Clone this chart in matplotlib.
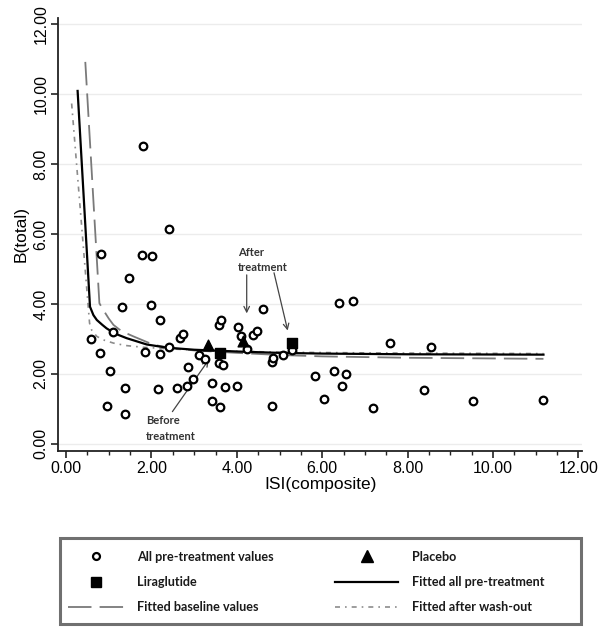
import numpy as np
import matplotlib
matplotlib.use("Agg")
import matplotlib.pyplot as plt
from matplotlib.lines import Line2D
from matplotlib.patches import Rectangle

# all pre-treatment values
pre_x = [0.58, 0.80, 0.82, 0.95, 1.02, 1.09, 1.30, 1.37, 1.39, 1.47, 1.77, 1.79,
         1.84, 2.00, 2.02, 2.16, 2.19, 2.21, 2.41, 2.42, 2.60, 2.67, 2.73, 2.83,
         2.85, 2.97, 3.12, 3.25, 3.41, 3.42, 3.57, 3.59, 3.60, 3.62, 3.68, 3.72,
         4.01, 4.03, 4.10, 4.24, 4.37, 4.48, 4.60, 4.82, 4.85, 4.82, 5.09, 5.28,
         5.84, 6.03, 6.27, 6.39, 6.46, 6.55, 6.73, 7.19, 7.58, 8.38, 8.55, 9.52,
         11.18]
pre_y = [3.01, 2.60, 5.42, 1.09, 2.09, 3.19, 3.90, 0.86, 1.61, 4.74, 5.41, 8.52,
         2.62, 3.98, 5.38, 1.57, 3.53, 2.56, 6.13, 2.78, 1.59, 3.02, 3.13, 1.64,
         2.21, 1.85, 2.54, 2.42, 1.75, 1.23, 2.31, 3.40, 1.05, 3.54, 2.24, 1.62,
         1.66, 3.33, 3.09, 2.70, 3.11, 3.23, 3.86, 2.33, 2.45, 1.09, 2.54, 2.67,
         1.95, 1.28, 2.07, 4.02, 1.65, 1.99, 4.08, 1.01, 2.87, 1.53, 2.78, 1.21,
         1.25]

placebo_x = [3.33, 4.14]
placebo_y = [2.82, 2.95]
lira_x = [3.61, 5.30]
lira_y = [2.61, 2.89]

# fitted curves
fit_all_x = [0.27, 0.56, 0.64, 0.72, 0.85, 0.95, 1.15, 1.42, 1.89, 2.36, 3.0, 4.0, 5.0, 6.0, 8.0, 11.18]
fit_all_y = [10.09, 3.92, 3.68, 3.54, 3.40, 3.30, 3.15, 3.02, 2.84, 2.75, 2.69, 2.64, 2.60, 2.58, 2.56, 2.55]
fit_base_x = [0.45, 0.78, 0.87, 1.0, 1.11, 1.3, 1.58, 2.05, 2.51, 3.0, 4.0, 5.0, 6.0, 8.0, 11.18]
fit_base_y = [10.92, 4.02, 3.83, 3.58, 3.40, 3.22, 3.07, 2.83, 2.73, 2.67, 2.60, 2.54, 2.50, 2.46, 2.43]
fit_wash_x = [0.13, 0.55, 0.6, 0.72, 0.9, 1.11, 1.4, 1.81, 2.5, 3.5, 5.0, 7.0, 9.0, 11.18]
fit_wash_y = [9.73, 3.45, 3.25, 3.07, 2.96, 2.88, 2.81, 2.76, 2.71, 2.66, 2.62, 2.60, 2.59, 2.58]

xticks = [0, 2, 4, 6, 8, 10, 12]
yticks = [0, 2, 4, 6, 8, 10, 12]

plt.rcParams['font.family'] = ['Liberation Sans', 'DejaVu Sans']
note_font = dict(family='Lato', fontweight='bold', color='#333333')

BASE_DASH = [13, 4.5]
WASH_DASH = [3, 3, 1, 3]

fig = plt.figure(figsize=(6.02, 6.27), dpi=100)
ax = fig.add_axes([0.0963, 0.281, 0.871, 0.69])

for t in yticks:
    ax.axhline(t, color='#ececec', lw=1.0, zorder=0)

ax.plot(fit_wash_x, fit_wash_y, color='#8c8c8c', lw=1.2, dashes=WASH_DASH, zorder=2)
ax.plot(fit_base_x, fit_base_y, color='#7a7a7a', lw=1.3, dashes=BASE_DASH, zorder=2)
ax.plot(fit_all_x, fit_all_y, color='black', lw=1.6, zorder=3)

ax.scatter(pre_x, pre_y, s=30, facecolors='white', edgecolors='black', linewidths=1.6, zorder=4)
ax.scatter(placebo_x, placebo_y, s=60, marker='^', color='black', zorder=5)
ax.scatter(lira_x, lira_y, s=55, marker='s', color='black', zorder=5)

arrow = dict(arrowstyle='->', color='#444444', lw=0.9, shrinkA=0, shrinkB=0)
ax.annotate('', xy=(4.23, 3.73), xytext=(4.23, 4.83), arrowprops=arrow)
ax.annotate('', xy=(5.19, 3.24), xytext=(4.87, 4.89), arrowprops=arrow)
ax.annotate('', xy=(3.34, 2.40), xytext=(2.49, 0.92), arrowprops=arrow)
ax.text(4.03, 5.63, 'After\ntreatment', fontsize=8, va='top', ha='left', linespacing=1.5, **note_font)
ax.text(1.87, 0.82, 'Before\ntreatment', fontsize=8, va='top', ha='left', linespacing=1.5, **note_font)

ax.set_xlim(-0.19, 12.09)
ax.set_ylim(-0.2, 12.17)
ax.set_xticks(xticks)
ax.set_xticklabels(['%.2f' % v for v in xticks], fontsize=11.5)
ax.set_xticks(np.arange(0, 12.01, 0.5), minor=True)
ax.set_yticks(yticks)
ax.set_yticklabels(['%.2f' % v for v in yticks], fontsize=11.5, rotation=90, va='center')
for s in ['top', 'right']:
    ax.spines[s].set_visible(False)
for s in ['left', 'bottom']:
    ax.spines[s].set_color('#222222')
    ax.spines[s].set_linewidth(1.3)
ax.tick_params(axis='both', which='major', length=5, width=1.2, color='#222222', pad=2)
ax.tick_params(axis='x', which='minor', length=3, width=1.0, color='#222222')
ax.set_xlabel('ISI(composite)', fontsize=12.5, labelpad=1)
ax.set_ylabel('B(total)', fontsize=12.5, labelpad=3)

# legend: frame drawn separately, two frameless columns inside
fig.patches.append(Rectangle((59.5 / 602, 1 - 623.5 / 627), 521.5 / 602, 85.5 / 627,
                             transform=fig.transFigure, fill=False,
                             edgecolor='#707070', linewidth=2.2))
leg_prop = dict(family='Lato', weight='bold', size=9.1)
col1 = [Line2D([], [], ls='none', marker='o', ms=5, mfc='white', mec='black', mew=1.6),
        Line2D([], [], ls='none', marker='s', ms=7, color='black'),
        Line2D([], [], color='#7a7a7a', lw=1.3, dashes=BASE_DASH)]
col2 = [Line2D([], [], ls='none', marker='^', ms=8, color='black'),
        Line2D([], [], color='black', lw=1.6),
        Line2D([], [], color='#8c8c8c', lw=1.2, dashes=WASH_DASH)]
lab1 = ['All pre-treatment values', 'Liraglutide', 'Fitted baseline values']
lab2 = ['Placebo', 'Fitted all pre-treatment', 'Fitted after wash-out']
leg1 = fig.legend(col1, lab1, loc='center left', bbox_to_anchor=(68 / 602, 1 - 582 / 627),
                  frameon=False, borderpad=0, borderaxespad=0, handlelength=4.5,
                  handletextpad=0.95, labelspacing=1.04, prop=leg_prop)
leg2 = fig.legend(col2, lab2, loc='center left', bbox_to_anchor=(335 / 602, 1 - 582 / 627),
                  frameon=False, borderpad=0, borderaxespad=0, handlelength=5.0,
                  handletextpad=1.1, labelspacing=1.04, prop=leg_prop)
for lg in (leg1, leg2):
    for t in lg.get_texts():
        t.set_color('#1a1a1a')

fig.savefig('out.png', dpi=100)
